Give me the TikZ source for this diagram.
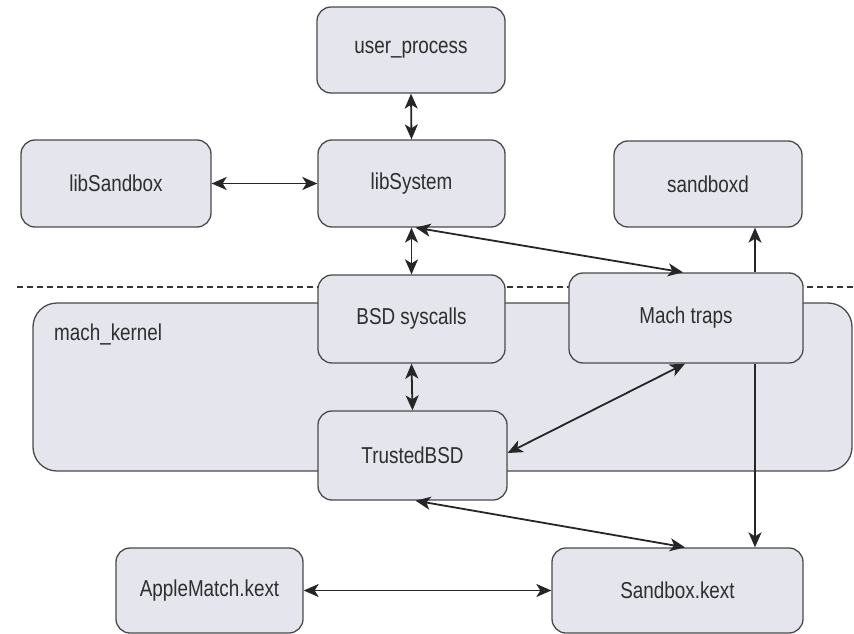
\documentclass[tikz,border=0pt]{standalone}
\usepackage{fontspec}
\setmainfont[FakeStretch=0.82]{Liberation Sans}
\usetikzlibrary{arrows.meta}
\definecolor{boxfill}{HTML}{E5E5EE}
\definecolor{boxline}{HTML}{4A4A4A}
\definecolor{txt}{HTML}{2E2E2E}
\begin{document}
\begin{tikzpicture}[x=1pt,y=-1pt,
  box/.style={draw=boxline, fill=boxfill, line width=1.3pt, rounded corners=14pt,
    inner sep=0pt, text=txt, font=\fontsize{23}{27}\selectfont},
  arr/.style={line width=1.8pt, draw=black!85, >={Stealth[length=15pt,width=13pt,inset=4pt]}},
  dashline/.style={line width=1.5pt, draw=black!80, dash pattern=on 6pt off 4pt},
]
\useasboundingbox (0,0) rectangle (854,634);
% separator
\coordinate (dl) at (17,287);
\coordinate (dr) at (854,287);
\draw[dashline] (dl) -- (dr);
% kernel region
\node[box, rounded corners=24pt, minimum width=819pt, minimum height=168pt] (kern) at (442.5,387) {};
\node[anchor=west, text=txt, font=\fontsize{23}{27}\selectfont, inner sep=0pt] (kl) at (54,334) {mach\_kernel};
% boxes
\node[box, minimum width=188pt, minimum height=86pt] (up) at (411,50) {user\_process};
\node[box, minimum width=190pt, minimum height=87pt] (lsb) at (116,183.5) {libSandbox};
\node[box, minimum width=187pt, minimum height=87pt] (ls) at (411.5,183.5) {libSystem};
\node[box, minimum width=188pt, minimum height=86pt] (sbd) at (708,184) {sandboxd};
\node[box, minimum width=187pt, minimum height=88pt] (bsd) at (411.5,319) {BSD syscalls};
\node[box, minimum width=234pt, minimum height=90pt] (mt) at (686,318) {Mach traps};
\node[box, minimum width=189pt, minimum height=89pt] (tb) at (412.5,455.5) {TrustedBSD};
\node[box, minimum width=187pt, minimum height=85pt] (am) at (209.5,590.5) {AppleMatch.kext};
\node[box, minimum width=251pt, minimum height=85pt] (sk) at (677.5,590.5) {Sandbox.kext};
% connectors
\draw[arr,<->] (up.south) -- (ls.north);
\draw[arr,<->] (lsb.east) -- (ls.west);
\draw[arr,<->] (ls.south) -- (bsd.north);
\draw[arr,<->] ([xshift=4pt]ls.south) -- ([xshift=-3pt]mt.north);
\draw[arr,<->] (bsd.south) -- (tb.north);
\draw[arr,<->] ([yshift=2.5pt]tb.east) -- ([xshift=-1pt]mt.south);
\draw[arr,<->] ([xshift=3pt]tb.south) -- ([xshift=7.5pt]sk.north);
\draw[arr,<->] (am.east) -- (sk.west);
\coordinate (mtt) at ([xshift=69pt]mt.north);
\coordinate (mtb) at ([xshift=69pt]mt.south);
\draw[arr,->] (mtt) -- (mtt |- sbd.south);
\draw[arr,->] (mtb) -- (mtb |- sk.north);
\end{tikzpicture}
\end{document}
